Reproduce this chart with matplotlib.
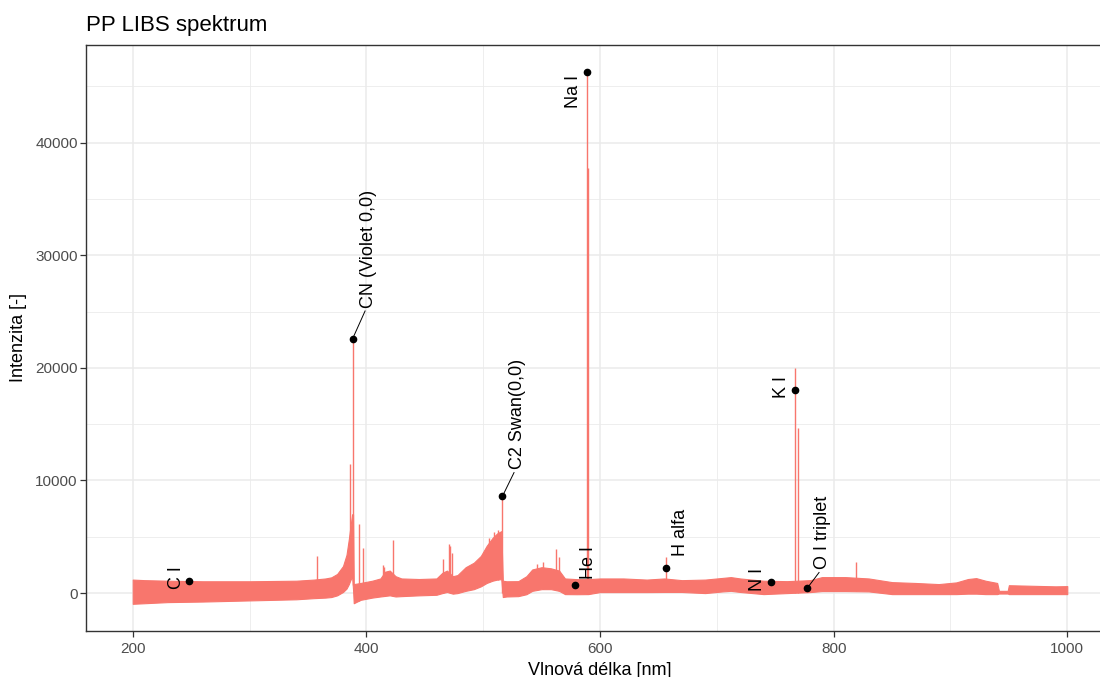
import matplotlib.pyplot as plt
import numpy as np

# noise band of the spectrum (wavelength [nm], lower / upper edge of intensity)
band_wl = [200, 210, 230, 260, 300, 340, 355, 365, 370, 375, 380, 383, 385, 386.5, 387.8, 388.6,
           389.2, 395, 405, 412, 416, 420, 425, 430, 445, 460, 465, 469, 474, 478, 485, 492,
           498, 503, 508, 512, 515.5, 516.8, 520, 530, 537, 542, 550, 558, 565, 570, 580,
           590, 600, 620, 640, 655, 670, 690, 705, 712, 720, 740, 760, 780, 790, 810, 830,
           850, 870, 890, 905, 915, 922, 930, 940, 941.5, 949, 950, 970, 990, 1000]
band_lo = [-950, -900, -800, -750, -650, -550, -450, -400, -350, -200, 100, 400, 800, 1200, 1500, 300,
           -900, -600, -400, -300, -250, -200, -300, -270, -200, -150, 0, 100, -50, 0, 200, 350,
           600, 900, 1100, 1200, 1240, -350, -300, -270, -100, 200, 350, 350, 200, -90, -100,
           -90, 90, 90, 90, 100, 100, 0, 150, 200, 100, -90, 0, 90, 180, 180, 150,
           -90, -90, -90, -90, -50, -50, -90, -90, -40, -40, -90, -90, -90, -90]
band_hi = [1200, 1150, 1100, 1050, 1050, 1100, 1200, 1300, 1400, 1700, 2400, 3400, 4800, 6000, 7000, 7000,
           800, 900, 1100, 1300, 1900, 2000, 1500, 1300, 1250, 1300, 1800, 2000, 1500, 1600, 2300, 2700,
           3300, 4200, 4900, 5300, 5500, 1100, 1050, 1060, 1500, 2100, 2300, 2200, 2000, 1300, 1240,
           1240, 1300, 1300, 1200, 1300, 1150, 1200, 1350, 1420, 1300, 1100, 1060, 1150, 1420, 1420, 1300,
           975, 900, 800, 950, 1250, 1330, 1100, 900, 200, 200, 700, 650, 600, 620]

# sharp emission lines (wavelength [nm], peak intensity)
line_wl = [358.0, 386.2, 388.3, 393.4, 396.8, 414.2, 415.5, 422.7, 466.0, 470.4, 471.2, 472.9,
           504.6, 508.9, 512.3, 516.5, 546.0, 550.8, 562.0, 564.5, 589.0, 589.6, 656.3, 766.5, 769.9, 819.5]
line_int = [3300, 11500, 22600, 6100, 4000, 2500, 2300, 4700, 3000, 4400, 4200, 3600,
            4900, 5400, 5600, 8600, 2600, 2750, 3900, 3200, 46300, 37700, 3200, 20000, 14700, 2800]

# identified lines
label_names = ['C I', 'CN (Violet 0,0)', 'C2 Swan(0,0)', 'Na I', 'He I', 'H alfa', 'N I', 'K I', 'O I triplet']
label_wl = [247.9, 388.3, 516.5, 589.0, 579.0, 656.3, 746.8, 766.5, 777.4]
label_int = [1060, 22600, 8600, 46300, 700, 2200, 970, 18000, 440]

# where the label texts sit, and whether a segment leads to them
text_wl = [237.6, 401.9, 529.4, 577.3, 590.2, 668.9, 734.8, 755.3, 790.5]
text_int = [1420, 25350, 11000, 46000, 1240, 3280, 1240, 18260, 2130]
text_va = ['center', 'bottom', 'bottom', 'top', 'bottom', 'bottom', 'center', 'center', 'bottom']
segment = [False, True, True, False, False, False, False, False, True]

red = '#F8766D'
plt.rcParams['font.family'] = ['Liberation Sans', 'DejaVu Sans']

fig = plt.figure(figsize=(11, 6.77), dpi=100)
ax = fig.add_axes([86 / 1100, 46 / 677, 1028 / 1100, 586 / 677])

ax.fill_between(band_wl, band_lo, band_hi, color=red, lw=0.8, zorder=2)
# lines rise from the lower edge of the band
line_base = np.interp(line_wl, band_wl, band_lo)
ax.vlines(line_wl, line_base, line_int, color=red, lw=1.0, zorder=2)

for i in range(len(label_names)):
    if segment[i]:
        ax.plot([label_wl[i], text_wl[i] - 3], [label_int[i], text_int[i] - 300],
                color='black', lw=0.7, zorder=3)
    ax.text(text_wl[i], text_int[i], label_names[i], rotation=90, ha='center', va=text_va[i],
            fontsize=13, color='black', zorder=4)
ax.plot(label_wl, label_int, 'o', color='black', ms=4.5, zorder=4)

ax.set_xlim(160, 1040)
ax.set_ylim(-3365, 48665)
ax.set_xticks([200, 400, 600, 800, 1000])
ax.set_yticks([0, 10000, 20000, 30000, 40000])
ax.set_xticks([300, 500, 700, 900], minor=True)
ax.set_yticks([5000, 15000, 25000, 35000, 45000], minor=True)
ax.grid(which='major', color='#EBEBEB', lw=1.1, zorder=0)
ax.grid(which='minor', color='#EBEBEB', lw=0.6, zorder=0)
ax.set_axisbelow(True)
ax.tick_params(which='major', length=4, width=0.9, color='#333333', labelcolor='#4D4D4D',
               labelsize=11)
ax.tick_params(axis='x', pad=4)
ax.tick_params(axis='y', pad=2)
ax.tick_params(which='minor', length=0)
for s in ax.spines.values():
    s.set_color('#333333')
    s.set_linewidth(1.0)

ax.set_xlabel('Vlnová délka [nm]', fontsize=13, labelpad=4)
ax.set_ylabel('Intenzita [-]', fontsize=13, labelpad=6)
ax.set_title('PP LIBS spektrum', loc='left', fontsize=16, pad=10)

plt.savefig('out.png', dpi=100)
